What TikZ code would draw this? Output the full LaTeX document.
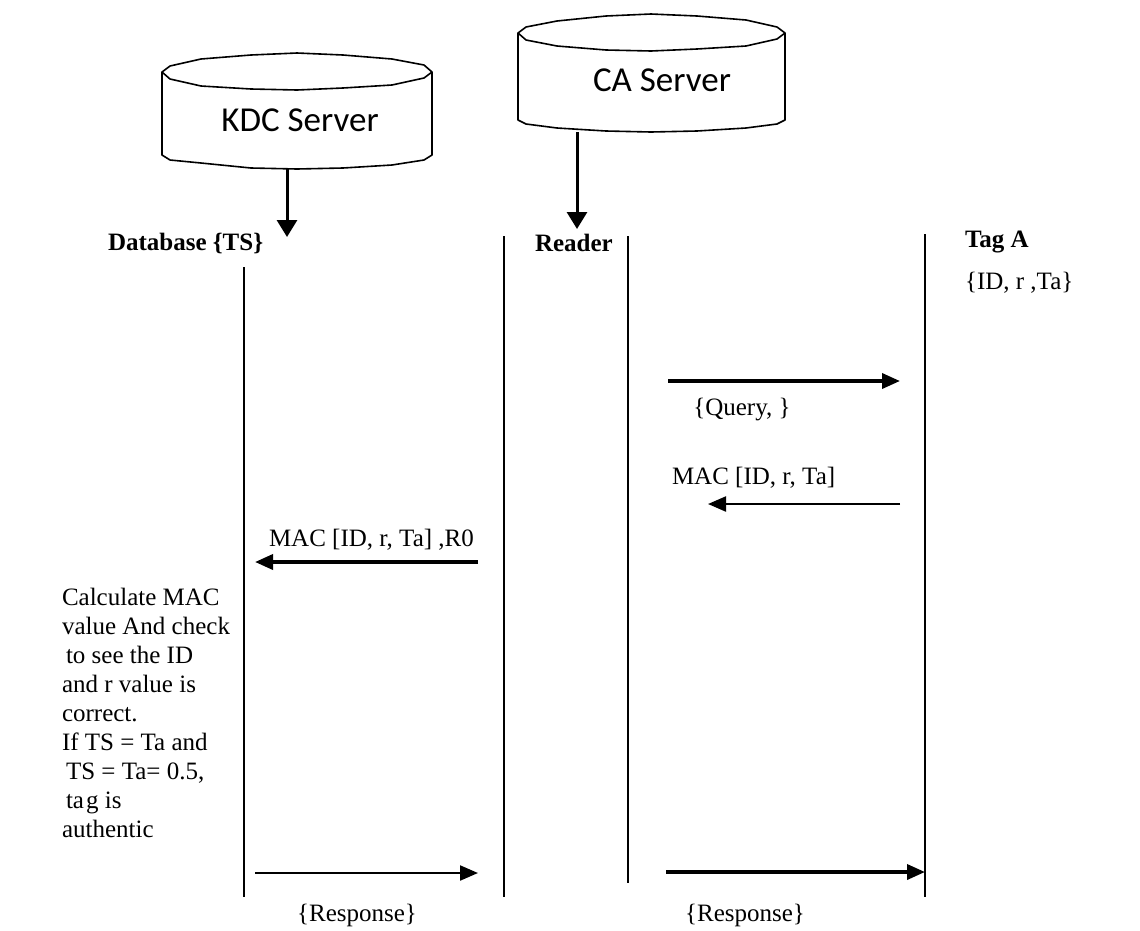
\documentclass[tikz,border=0pt]{standalone}
\usepackage{fontspec}
\setmainfont{Liberation Serif}
\newfontfamily\calibrifont{Carlito}
\usetikzlibrary{arrows.meta}
\begin{document}
\begin{tikzpicture}[x=1pt,y=-1pt,
  every node/.style={inner sep=0pt, outer sep=0pt},
  txt/.style={font=\fontsize{25}{29}\selectfont},
  hdr/.style={font=\fontsize{25}{29}\selectfont\bfseries},
  srv/.style={font=\calibrifont\fontsize{35}{40}\selectfont},
  life/.style={line width=1.3pt},
  cyl/.style={line width=1.6pt, line join=round},
  feed/.style={line width=3pt, -{Triangle[length=17pt,width=20pt]}},
  msgthick/.style={line width=3.6pt, -{Triangle[length=18pt,width=15pt]}},
  msgthin/.style={line width=2.2pt, -{Triangle[length=18pt,width=15pt]}},
]
\useasboundingbox (0,0) rectangle (1140,930);
\fill[white] (0,0) rectangle (1140,930);

% KDC cylinder
\draw[cyl] (162,72) -- (170,66) -- (201,59) -- (251,55) -- (297,53) -- (343,55) -- (392,59) -- (424,65) -- (432,72)
  -- (424,78) -- (392,85) -- (343,88) -- (297,90) -- (251,89) -- (201,86) -- (170,79) -- cycle;
\draw[cyl] (162,72) -- (162,155) -- (170,160) -- (201,163) -- (251,168) -- (297,169) -- (343,168) -- (392,165) -- (424,160) -- (432,155) -- (432,72);
\node[srv] (kdc) at (300,120) {KDC Server};

% CA cylinder
\draw[cyl] (518,33) -- (526,27) -- (557,21) -- (606,16) -- (651,14) -- (697,16) -- (746,20) -- (777,27) -- (785,33)
  -- (777,39) -- (746,46) -- (697,49) -- (651,51) -- (606,50) -- (557,46) -- (526,40) -- cycle;
\draw[cyl] (518,33) -- (518,120) -- (526,124) -- (557,128) -- (606,131) -- (651,132) -- (697,131) -- (746,128) -- (777,124) -- (785,120) -- (785,33);
\node[srv] (ca) at (662,80) {CA Server};

% feed arrows
\coordinate (kdcbot) at (287,168);
\coordinate (kdctip) at (287,237);
\coordinate (cabot) at (577,132);
\coordinate (catip) at (577,229);
\draw[feed] (kdcbot) -- (kdctip);
\draw[feed] (cabot) -- (catip);

% headers
\node[hdr, anchor=west] (db) at (108,243) {Database \{TS\}};
\node[hdr, anchor=west] (reader) at (535,243) {Reader};
\node[hdr, anchor=west] (tag) at (965,242) {Tag A};
\node[txt, anchor=west] (tagdata) at (965,283) {\{ID, r ,Ta\}};

% lifelines
\coordinate (l1t) at (244,267); \coordinate (l1b) at (244,897);
\coordinate (l2t) at (504,236); \coordinate (l2b) at (504,897);
\coordinate (l3t) at (628,236); \coordinate (l3b) at (628,883);
\coordinate (l4t) at (925,234); \coordinate (l4b) at (925,897);
\draw[life] (l1t) -- (l1b);
\draw[life] (l2t) -- (l2b);
\draw[life] (l3t) -- (l3b);
\draw[life] (l4t) -- (l4b);

% messages
\coordinate (q1) at (668,381); \coordinate (q2) at (900,381);
\draw[msgthick] (q1) -- (q2);
\node[txt] (query) at (742,410) {\{Query, \}};

\coordinate (m1) at (900,504); \coordinate (m2) at (708,504);
\draw[msgthin] (m1) -- (m2);
\node[txt, anchor=west] (mac1) at (672,478) {MAC [ID, r, Ta]};

\coordinate (n1) at (478,562); \coordinate (n2) at (255,562);
\draw[msgthick] (n1) -- (n2);
\node[txt, anchor=west] (mac2) at (269,540) {MAC [ID, r, Ta] ,R0};

\coordinate (r1) at (255,873); \coordinate (r2) at (478,873);
\draw[msgthin] (r1) -- (r2);
\node[txt] (resp1) at (357,915) {\{Response\}};

\coordinate (s1) at (666,872); \coordinate (s2) at (925,872);
\draw[msgthick] (s1) -- (s2);
\node[txt] (resp2) at (745,915) {\{Response\}};

% note
\node[txt, anchor=north west, align=left] (note) at (62,588) {Calculate MAC\\value And check\\\hspace*{4pt}to see the ID\\and r value is\\correct.\\If TS = Ta and\\\hspace*{4pt}TS = Ta= 0.5,\\\hspace*{4pt}ta\hspace{2pt}g is\\authentic};
\end{tikzpicture}
\end{document}
